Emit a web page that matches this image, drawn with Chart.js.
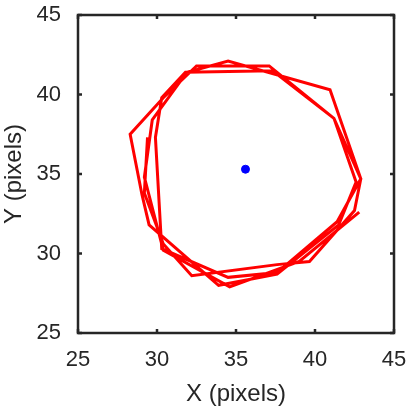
<!DOCTYPE html>
<html>
<head>
<meta charset="utf-8">
<script src="https://cdn.jsdelivr.net/npm/chart.js@4/dist/chart.umd.min.js"></script>
<style>
  html, body { margin: 0; padding: 0; background: #fff; }
  #wrap { width: 407px; height: 409px; }
</style>
</head>
<body>
<div id="wrap"><canvas id="track-chart"></canvas></div>
<script>
// tracked position, in pixels (about three and a half turns)
const pathX = [29.4, 29.2, 30.4, 32.2, 37.6, 39.65, 42.5, 42.9, 41.2, 37.1, 32.5, 30.4, 28.3,
               29.05, 29.5, 33.9, 37.6, 41.5, 42.6, 41.2, 37.3, 31.8, 30.3, 29.9,
               30.3, 34.5, 37.6, 41.4, 42.9, 40.95, 34.5, 31.9, 29.7, 29.2,
               30.4, 34.6, 39.0, 42.8];
const pathY = [37.3, 33.8, 30.6, 28.6, 29.3, 29.5, 32.7, 34.7, 38.5, 41.8, 41.8, 39.8, 37.5,
               33.7, 31.8, 28.0, 28.7, 31.8, 34.5, 38.5, 41.5, 41.4, 39.8, 37.3,
               30.3, 28.5, 28.8, 32.0, 34.7, 40.3, 42.1, 41.4, 38.4, 34.8,
               30.2, 27.9, 29.5, 32.6];
// mean position
const centerX = [35.6];
const centerY = [35.3];
const tickValues = [25, 30, 35, 40, 45];

const ink = "#262626";
const fontFamily = "'Liberation Sans', Arial, sans-serif";

// box around the plot with inward ticks on all four sides
const boxPlugin = {
  id: "box",
  afterDraw(chart) {
    const { ctx, chartArea: a, scales } = chart;
    ctx.save();
    ctx.strokeStyle = ink;
    ctx.lineWidth = 2.5;
    ctx.strokeRect(a.left, a.top, a.right - a.left, a.bottom - a.top);
    const len = 4;
    tickValues.forEach(v => {
      const px = scales.x.getPixelForValue(v);
      const py = scales.y.getPixelForValue(v);
      ctx.beginPath();
      ctx.moveTo(px, a.bottom); ctx.lineTo(px, a.bottom - len);
      ctx.moveTo(px, a.top); ctx.lineTo(px, a.top + len);
      ctx.moveTo(a.left, py); ctx.lineTo(a.left + len, py);
      ctx.moveTo(a.right, py); ctx.lineTo(a.right - len, py);
      ctx.stroke();
    });
    ctx.restore();
  }
};

function fixTicks(s) {
  s.ticks = tickValues.map(v => ({ value: v }));
}

new Chart(document.getElementById("track-chart"), {
  type: "scatter",
  data: {
    datasets: [
      {
        data: pathX.map((x, i) => ({ x: x, y: pathY[i] })),
        showLine: true,
        borderColor: "#ff0000",
        borderWidth: 3,
        pointRadius: 0,
        borderJoinStyle: "miter",
        tension: 0
      },
      {
        data: centerX.map((x, i) => ({ x: x, y: centerY[i] })),
        backgroundColor: "#0000ff",
        borderColor: "#0000ff",
        pointRadius: 4
      }
    ]
  },
  options: {
    responsive: true,
    maintainAspectRatio: false,
    animation: false,
    layout: { padding: { left: 0, top: 15, right: 13, bottom: 0 } },
    plugins: { legend: { display: false }, tooltip: { enabled: false } },
    scales: {
      x: {
        type: "linear",
        min: 25, max: 45,
        afterBuildTicks: fixTicks,
        afterFit: s => { s.height = 76; s.paddingLeft = 0; s.paddingRight = 0; },
        grid: { display: false },
        border: { display: false },
        ticks: { color: ink, padding: 6, font: { family: fontFamily, size: 22 } },
        title: { display: true, text: "X (pixels)", color: ink, padding: { top: 0, bottom: 0 },
                 font: { family: fontFamily, size: 24 } }
      },
      y: {
        type: "linear",
        min: 25, max: 45,
        afterBuildTicks: fixTicks,
        afterFit: s => { s.width = 78; s.paddingTop = 0; s.paddingBottom = 0; },
        grid: { display: false },
        border: { display: false },
        ticks: { color: ink, padding: 9, font: { family: fontFamily, size: 22 } },
        title: { display: true, text: "Y (pixels)", color: ink, padding: { top: 0, bottom: 0 },
                 font: { family: fontFamily, size: 24 } }
      }
    }
  },
  plugins: [boxPlugin]
});
</script>
</body>
</html>
